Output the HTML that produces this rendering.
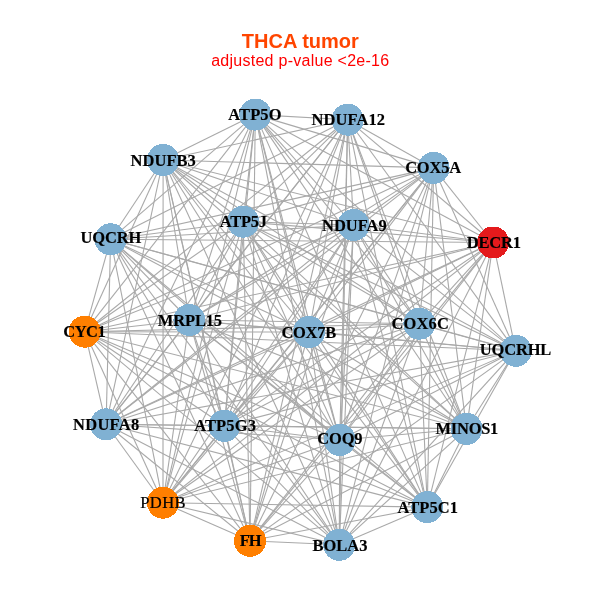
<!DOCTYPE html><html><head><meta charset="utf-8"><title>THCA tumor</title><style>html,body{margin:0;padding:0;background:#fff;overflow:hidden}svg{display:block}text{font-family:"Liberation Serif",serif;font-weight:bold;font-size:16px;fill:#000;stroke:#000;stroke-width:0.15px}.t{font-family:"Liberation Sans",sans-serif;text-anchor:middle;stroke:none}</style></head><body>
<svg width="600" height="600" viewBox="0 0 600 600">
<rect width="600" height="600" fill="#fff"/>
<g stroke="#A9A9A9" stroke-width="1.1" fill="none">
<line x1="255.3" y1="114.6" x2="347.7" y2="119.7"/>
<line x1="255.3" y1="114.6" x2="163.1" y2="160"/>
<line x1="255.3" y1="114.6" x2="433.6" y2="167.9"/>
<line x1="255.3" y1="114.6" x2="110.6" y2="239.3"/>
<line x1="255.3" y1="114.6" x2="243.2" y2="221.7"/>
<line x1="255.3" y1="114.6" x2="353.6" y2="225"/>
<line x1="255.3" y1="114.6" x2="493.1" y2="242.5"/>
<line x1="255.3" y1="114.6" x2="84.75" y2="331.7"/>
<line x1="255.3" y1="114.6" x2="189.4" y2="320"/>
<line x1="255.3" y1="114.6" x2="309" y2="332"/>
<line x1="255.3" y1="114.6" x2="419.4" y2="323.7"/>
<line x1="255.3" y1="114.6" x2="515.7" y2="350.8"/>
<line x1="255.3" y1="114.6" x2="106.1" y2="424.3"/>
<line x1="255.3" y1="114.6" x2="224.4" y2="425.8"/>
<line x1="255.3" y1="114.6" x2="339.75" y2="440"/>
<line x1="255.3" y1="114.6" x2="466.5" y2="428.8"/>
<line x1="255.3" y1="114.6" x2="163" y2="502.7"/>
<line x1="255.3" y1="114.6" x2="250" y2="540.8"/>
<line x1="255.3" y1="114.6" x2="339.25" y2="544.8"/>
<line x1="255.3" y1="114.6" x2="427.3" y2="507.1"/>
<line x1="347.7" y1="119.7" x2="163.1" y2="160"/>
<line x1="347.7" y1="119.7" x2="433.6" y2="167.9"/>
<line x1="347.7" y1="119.7" x2="110.6" y2="239.3"/>
<line x1="347.7" y1="119.7" x2="243.2" y2="221.7"/>
<line x1="347.7" y1="119.7" x2="353.6" y2="225"/>
<line x1="347.7" y1="119.7" x2="493.1" y2="242.5"/>
<line x1="347.7" y1="119.7" x2="84.75" y2="331.7"/>
<line x1="347.7" y1="119.7" x2="189.4" y2="320"/>
<line x1="347.7" y1="119.7" x2="309" y2="332"/>
<line x1="347.7" y1="119.7" x2="419.4" y2="323.7"/>
<line x1="347.7" y1="119.7" x2="515.7" y2="350.8"/>
<line x1="347.7" y1="119.7" x2="106.1" y2="424.3"/>
<line x1="347.7" y1="119.7" x2="224.4" y2="425.8"/>
<line x1="347.7" y1="119.7" x2="339.75" y2="440"/>
<line x1="347.7" y1="119.7" x2="466.5" y2="428.8"/>
<line x1="347.7" y1="119.7" x2="163" y2="502.7"/>
<line x1="347.7" y1="119.7" x2="250" y2="540.8"/>
<line x1="347.7" y1="119.7" x2="339.25" y2="544.8"/>
<line x1="347.7" y1="119.7" x2="427.3" y2="507.1"/>
<line x1="163.1" y1="160" x2="433.6" y2="167.9"/>
<line x1="163.1" y1="160" x2="110.6" y2="239.3"/>
<line x1="163.1" y1="160" x2="243.2" y2="221.7"/>
<line x1="163.1" y1="160" x2="353.6" y2="225"/>
<line x1="163.1" y1="160" x2="493.1" y2="242.5"/>
<line x1="163.1" y1="160" x2="84.75" y2="331.7"/>
<line x1="163.1" y1="160" x2="189.4" y2="320"/>
<line x1="163.1" y1="160" x2="309" y2="332"/>
<line x1="163.1" y1="160" x2="419.4" y2="323.7"/>
<line x1="163.1" y1="160" x2="515.7" y2="350.8"/>
<line x1="163.1" y1="160" x2="106.1" y2="424.3"/>
<line x1="163.1" y1="160" x2="224.4" y2="425.8"/>
<line x1="163.1" y1="160" x2="339.75" y2="440"/>
<line x1="163.1" y1="160" x2="466.5" y2="428.8"/>
<line x1="163.1" y1="160" x2="163" y2="502.7"/>
<line x1="163.1" y1="160" x2="250" y2="540.8"/>
<line x1="163.1" y1="160" x2="339.25" y2="544.8"/>
<line x1="163.1" y1="160" x2="427.3" y2="507.1"/>
<line x1="433.6" y1="167.9" x2="110.6" y2="239.3"/>
<line x1="433.6" y1="167.9" x2="243.2" y2="221.7"/>
<line x1="433.6" y1="167.9" x2="353.6" y2="225"/>
<line x1="433.6" y1="167.9" x2="493.1" y2="242.5"/>
<line x1="433.6" y1="167.9" x2="84.75" y2="331.7"/>
<line x1="433.6" y1="167.9" x2="189.4" y2="320"/>
<line x1="433.6" y1="167.9" x2="309" y2="332"/>
<line x1="433.6" y1="167.9" x2="419.4" y2="323.7"/>
<line x1="433.6" y1="167.9" x2="515.7" y2="350.8"/>
<line x1="433.6" y1="167.9" x2="106.1" y2="424.3"/>
<line x1="433.6" y1="167.9" x2="224.4" y2="425.8"/>
<line x1="433.6" y1="167.9" x2="339.75" y2="440"/>
<line x1="433.6" y1="167.9" x2="466.5" y2="428.8"/>
<line x1="433.6" y1="167.9" x2="163" y2="502.7"/>
<line x1="433.6" y1="167.9" x2="250" y2="540.8"/>
<line x1="433.6" y1="167.9" x2="339.25" y2="544.8"/>
<line x1="433.6" y1="167.9" x2="427.3" y2="507.1"/>
<line x1="110.6" y1="239.3" x2="243.2" y2="221.7"/>
<line x1="110.6" y1="239.3" x2="353.6" y2="225"/>
<line x1="110.6" y1="239.3" x2="493.1" y2="242.5"/>
<line x1="110.6" y1="239.3" x2="84.75" y2="331.7"/>
<line x1="110.6" y1="239.3" x2="189.4" y2="320"/>
<line x1="110.6" y1="239.3" x2="309" y2="332"/>
<line x1="110.6" y1="239.3" x2="419.4" y2="323.7"/>
<line x1="110.6" y1="239.3" x2="515.7" y2="350.8"/>
<line x1="110.6" y1="239.3" x2="106.1" y2="424.3"/>
<line x1="110.6" y1="239.3" x2="224.4" y2="425.8"/>
<line x1="110.6" y1="239.3" x2="339.75" y2="440"/>
<line x1="110.6" y1="239.3" x2="466.5" y2="428.8"/>
<line x1="110.6" y1="239.3" x2="163" y2="502.7"/>
<line x1="110.6" y1="239.3" x2="250" y2="540.8"/>
<line x1="110.6" y1="239.3" x2="339.25" y2="544.8"/>
<line x1="110.6" y1="239.3" x2="427.3" y2="507.1"/>
<line x1="243.2" y1="221.7" x2="353.6" y2="225"/>
<line x1="243.2" y1="221.7" x2="493.1" y2="242.5"/>
<line x1="243.2" y1="221.7" x2="84.75" y2="331.7"/>
<line x1="243.2" y1="221.7" x2="189.4" y2="320"/>
<line x1="243.2" y1="221.7" x2="309" y2="332"/>
<line x1="243.2" y1="221.7" x2="419.4" y2="323.7"/>
<line x1="243.2" y1="221.7" x2="515.7" y2="350.8"/>
<line x1="243.2" y1="221.7" x2="106.1" y2="424.3"/>
<line x1="243.2" y1="221.7" x2="224.4" y2="425.8"/>
<line x1="243.2" y1="221.7" x2="339.75" y2="440"/>
<line x1="243.2" y1="221.7" x2="466.5" y2="428.8"/>
<line x1="243.2" y1="221.7" x2="163" y2="502.7"/>
<line x1="243.2" y1="221.7" x2="250" y2="540.8"/>
<line x1="243.2" y1="221.7" x2="339.25" y2="544.8"/>
<line x1="243.2" y1="221.7" x2="427.3" y2="507.1"/>
<line x1="353.6" y1="225" x2="493.1" y2="242.5"/>
<line x1="353.6" y1="225" x2="84.75" y2="331.7"/>
<line x1="353.6" y1="225" x2="189.4" y2="320"/>
<line x1="353.6" y1="225" x2="309" y2="332"/>
<line x1="353.6" y1="225" x2="419.4" y2="323.7"/>
<line x1="353.6" y1="225" x2="515.7" y2="350.8"/>
<line x1="353.6" y1="225" x2="106.1" y2="424.3"/>
<line x1="353.6" y1="225" x2="224.4" y2="425.8"/>
<line x1="353.6" y1="225" x2="339.75" y2="440"/>
<line x1="353.6" y1="225" x2="466.5" y2="428.8"/>
<line x1="353.6" y1="225" x2="163" y2="502.7"/>
<line x1="353.6" y1="225" x2="250" y2="540.8"/>
<line x1="353.6" y1="225" x2="339.25" y2="544.8"/>
<line x1="353.6" y1="225" x2="427.3" y2="507.1"/>
<line x1="493.1" y1="242.5" x2="84.75" y2="331.7"/>
<line x1="493.1" y1="242.5" x2="189.4" y2="320"/>
<line x1="493.1" y1="242.5" x2="309" y2="332"/>
<line x1="493.1" y1="242.5" x2="419.4" y2="323.7"/>
<line x1="493.1" y1="242.5" x2="515.7" y2="350.8"/>
<line x1="493.1" y1="242.5" x2="106.1" y2="424.3"/>
<line x1="493.1" y1="242.5" x2="224.4" y2="425.8"/>
<line x1="493.1" y1="242.5" x2="339.75" y2="440"/>
<line x1="493.1" y1="242.5" x2="466.5" y2="428.8"/>
<line x1="493.1" y1="242.5" x2="163" y2="502.7"/>
<line x1="493.1" y1="242.5" x2="250" y2="540.8"/>
<line x1="493.1" y1="242.5" x2="339.25" y2="544.8"/>
<line x1="493.1" y1="242.5" x2="427.3" y2="507.1"/>
<line x1="84.75" y1="331.7" x2="189.4" y2="320"/>
<line x1="84.75" y1="331.7" x2="309" y2="332"/>
<line x1="84.75" y1="331.7" x2="419.4" y2="323.7"/>
<line x1="84.75" y1="331.7" x2="515.7" y2="350.8"/>
<line x1="84.75" y1="331.7" x2="106.1" y2="424.3"/>
<line x1="84.75" y1="331.7" x2="224.4" y2="425.8"/>
<line x1="84.75" y1="331.7" x2="339.75" y2="440"/>
<line x1="84.75" y1="331.7" x2="466.5" y2="428.8"/>
<line x1="84.75" y1="331.7" x2="163" y2="502.7"/>
<line x1="84.75" y1="331.7" x2="250" y2="540.8"/>
<line x1="84.75" y1="331.7" x2="339.25" y2="544.8"/>
<line x1="84.75" y1="331.7" x2="427.3" y2="507.1"/>
<line x1="189.4" y1="320" x2="309" y2="332"/>
<line x1="189.4" y1="320" x2="419.4" y2="323.7"/>
<line x1="189.4" y1="320" x2="515.7" y2="350.8"/>
<line x1="189.4" y1="320" x2="106.1" y2="424.3"/>
<line x1="189.4" y1="320" x2="224.4" y2="425.8"/>
<line x1="189.4" y1="320" x2="339.75" y2="440"/>
<line x1="189.4" y1="320" x2="466.5" y2="428.8"/>
<line x1="189.4" y1="320" x2="163" y2="502.7"/>
<line x1="189.4" y1="320" x2="250" y2="540.8"/>
<line x1="189.4" y1="320" x2="339.25" y2="544.8"/>
<line x1="189.4" y1="320" x2="427.3" y2="507.1"/>
<line x1="309" y1="332" x2="419.4" y2="323.7"/>
<line x1="309" y1="332" x2="515.7" y2="350.8"/>
<line x1="309" y1="332" x2="106.1" y2="424.3"/>
<line x1="309" y1="332" x2="224.4" y2="425.8"/>
<line x1="309" y1="332" x2="339.75" y2="440"/>
<line x1="309" y1="332" x2="466.5" y2="428.8"/>
<line x1="309" y1="332" x2="163" y2="502.7"/>
<line x1="309" y1="332" x2="250" y2="540.8"/>
<line x1="309" y1="332" x2="339.25" y2="544.8"/>
<line x1="309" y1="332" x2="427.3" y2="507.1"/>
<line x1="419.4" y1="323.7" x2="515.7" y2="350.8"/>
<line x1="419.4" y1="323.7" x2="106.1" y2="424.3"/>
<line x1="419.4" y1="323.7" x2="224.4" y2="425.8"/>
<line x1="419.4" y1="323.7" x2="339.75" y2="440"/>
<line x1="419.4" y1="323.7" x2="466.5" y2="428.8"/>
<line x1="419.4" y1="323.7" x2="163" y2="502.7"/>
<line x1="419.4" y1="323.7" x2="250" y2="540.8"/>
<line x1="419.4" y1="323.7" x2="339.25" y2="544.8"/>
<line x1="419.4" y1="323.7" x2="427.3" y2="507.1"/>
<line x1="515.7" y1="350.8" x2="106.1" y2="424.3"/>
<line x1="515.7" y1="350.8" x2="224.4" y2="425.8"/>
<line x1="515.7" y1="350.8" x2="339.75" y2="440"/>
<line x1="515.7" y1="350.8" x2="466.5" y2="428.8"/>
<line x1="515.7" y1="350.8" x2="163" y2="502.7"/>
<line x1="515.7" y1="350.8" x2="250" y2="540.8"/>
<line x1="515.7" y1="350.8" x2="339.25" y2="544.8"/>
<line x1="515.7" y1="350.8" x2="427.3" y2="507.1"/>
<line x1="106.1" y1="424.3" x2="224.4" y2="425.8"/>
<line x1="106.1" y1="424.3" x2="339.75" y2="440"/>
<line x1="106.1" y1="424.3" x2="466.5" y2="428.8"/>
<line x1="106.1" y1="424.3" x2="163" y2="502.7"/>
<line x1="106.1" y1="424.3" x2="250" y2="540.8"/>
<line x1="106.1" y1="424.3" x2="339.25" y2="544.8"/>
<line x1="106.1" y1="424.3" x2="427.3" y2="507.1"/>
<line x1="224.4" y1="425.8" x2="339.75" y2="440"/>
<line x1="224.4" y1="425.8" x2="466.5" y2="428.8"/>
<line x1="224.4" y1="425.8" x2="163" y2="502.7"/>
<line x1="224.4" y1="425.8" x2="250" y2="540.8"/>
<line x1="224.4" y1="425.8" x2="339.25" y2="544.8"/>
<line x1="224.4" y1="425.8" x2="427.3" y2="507.1"/>
<line x1="339.75" y1="440" x2="466.5" y2="428.8"/>
<line x1="339.75" y1="440" x2="163" y2="502.7"/>
<line x1="339.75" y1="440" x2="250" y2="540.8"/>
<line x1="339.75" y1="440" x2="339.25" y2="544.8"/>
<line x1="339.75" y1="440" x2="427.3" y2="507.1"/>
<line x1="466.5" y1="428.8" x2="163" y2="502.7"/>
<line x1="466.5" y1="428.8" x2="250" y2="540.8"/>
<line x1="466.5" y1="428.8" x2="339.25" y2="544.8"/>
<line x1="466.5" y1="428.8" x2="427.3" y2="507.1"/>
<line x1="163" y1="502.7" x2="250" y2="540.8"/>
<line x1="163" y1="502.7" x2="339.25" y2="544.8"/>
<line x1="163" y1="502.7" x2="427.3" y2="507.1"/>
<line x1="250" y1="540.8" x2="339.25" y2="544.8"/>
<line x1="250" y1="540.8" x2="427.3" y2="507.1"/>
<line x1="339.25" y1="544.8" x2="427.3" y2="507.1"/>
</g>
<g shape-rendering="crispEdges">
<circle cx="255.3" cy="114.6" r="16" fill="#80B1D3"/>
<circle cx="347.7" cy="119.7" r="16" fill="#80B1D3"/>
<circle cx="163.1" cy="160" r="16" fill="#80B1D3"/>
<circle cx="433.6" cy="167.9" r="16" fill="#80B1D3"/>
<circle cx="110.6" cy="239.3" r="16" fill="#80B1D3"/>
<circle cx="243.2" cy="221.7" r="16" fill="#80B1D3"/>
<circle cx="353.6" cy="225" r="16" fill="#80B1D3"/>
<circle cx="493.1" cy="242.5" r="16" fill="#E41A1C"/>
<circle cx="84.75" cy="331.7" r="16" fill="#FF7F00"/>
<circle cx="189.4" cy="320" r="16" fill="#80B1D3"/>
<circle cx="309" cy="332" r="16" fill="#80B1D3"/>
<circle cx="419.4" cy="323.7" r="16" fill="#80B1D3"/>
<circle cx="515.7" cy="350.8" r="16" fill="#80B1D3"/>
<circle cx="106.1" cy="424.3" r="16" fill="#80B1D3"/>
<circle cx="224.4" cy="425.8" r="16" fill="#80B1D3"/>
<circle cx="339.75" cy="440" r="16" fill="#80B1D3"/>
<circle cx="466.5" cy="428.8" r="16" fill="#80B1D3"/>
<circle cx="163" cy="502.7" r="16" fill="#FF7F00"/>
<circle cx="250" cy="540.8" r="16" fill="#FF7F00"/>
<circle cx="339.25" cy="544.8" r="16" fill="#80B1D3"/>
<circle cx="427.3" cy="507.1" r="16" fill="#80B1D3"/>
</g>
<text transform="translate(228.13 120) scale(1.03 1)" style="letter-spacing:0.169px">ATP5O</text>
<text transform="translate(311.50 125) scale(1.03 1)" style="letter-spacing:0.104px">NDUFA12</text>
<text transform="translate(130.58 166) scale(1.03 1)" style="letter-spacing:0.056px">NDUFB3</text>
<text transform="translate(405.13 173) scale(1.03 1)" style="letter-spacing:-0.162px">COX5A</text>
<text transform="translate(80.48 243) scale(1.03 1)" style="letter-spacing:-0.110px">UQCRH</text>
<text transform="translate(219.85 227) scale(1.03 1)" style="letter-spacing:-0.237px">ATP5J</text>
<text transform="translate(322.02 231) scale(1.03 1)" style="letter-spacing:0.011px">NDUFA9</text>
<text transform="translate(466.75 248) scale(1.03 1)" style="letter-spacing:-0.189px">DECR1</text>
<text transform="translate(63.18 337) scale(1.03 1)" style="letter-spacing:-0.428px">CYC1</text>
<text transform="translate(157.75 326) scale(1.03 1)" style="letter-spacing:-0.121px">MRPL15</text>
<text transform="translate(281.42 338) scale(1.03 1)" style="letter-spacing:-0.271px">COX7B</text>
<text transform="translate(391.57 329) scale(1.03 1)" style="letter-spacing:0.142px">COX6C</text>
<text transform="translate(479.75 355) scale(1.03 1)" style="letter-spacing:-0.140px">UQCRHL</text>
<text transform="translate(73.03 430) scale(1.03 1)" style="letter-spacing:0.288px">NDUFA8</text>
<text transform="translate(194.17 431) scale(1.03 1)" style="letter-spacing:0.142px">ATP5G3</text>
<text transform="translate(317.20 444) scale(1.03 1)" style="letter-spacing:-0.115px">COQ9</text>
<text transform="translate(435.58 434) scale(1.03 1)" style="letter-spacing:-0.261px">MINOS1</text>
<text transform="translate(140.17 508) scale(1.0 1)" style="letter-spacing:0.373px;font-weight:normal;font-size:16.6px;stroke:#000;stroke-width:0.22px">PDHB</text>
<text transform="translate(239.63 546) scale(1.03 1)" style="letter-spacing:-0.797px">FH</text>
<text transform="translate(312.58 551) scale(1.03 1)" style="letter-spacing:-0.004px">BOLA3</text>
<text transform="translate(397.50 513) scale(1.03 1)" style="letter-spacing:0.055px">ATP5C1</text>
<text class="t" x="300.3" y="47.5" style="font-size:20px;fill:#FF4500">THCA tumor</text>
<text class="t" x="300.3" y="65.8" style="font-size:16px;font-weight:normal;fill:#FF0000;letter-spacing:0.27px">adjusted p-value &lt;2e-16</text>
</svg></body></html>
